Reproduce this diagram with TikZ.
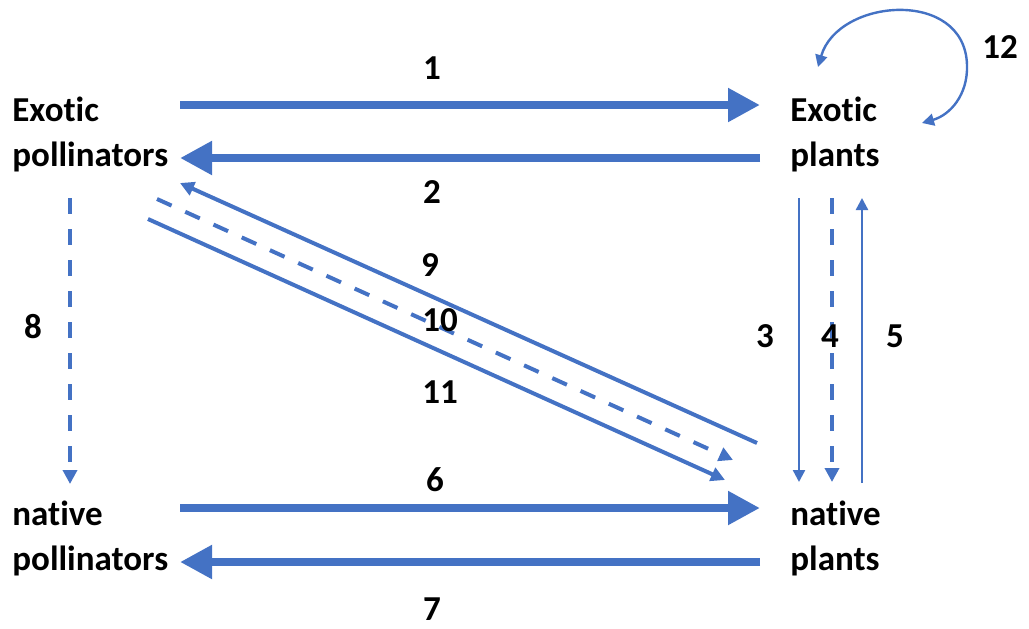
\documentclass[tikz,border=0pt]{standalone}
\usepackage{fontspec}
\setmainfont[Ligatures=NoCommon]{Carlito}
\usetikzlibrary{arrows.meta}
\definecolor{linkblue}{RGB}{68,114,196}

\begin{document}
\begin{tikzpicture}[
  x=0.5pt, y=-0.5pt,
  font=\fontsize{17.5}{22.5}\selectfont\bfseries,
  group/.style={align=left, inner sep=0pt, anchor=west},
  num/.style={inner sep=0pt},
  fat/.style={-{Triangle[length=16pt, width=16pt]}, line width=4.2pt, draw=linkblue},
  thin/.style={-{Triangle[length=7pt, width=7pt]}, line width=2pt, draw=linkblue},
  hair/.style={-{Triangle[length=6pt, width=6pt]}, line width=1.2pt, draw=linkblue},
  broken/.style={dash pattern=on 8pt off 7.5pt}
]
\useasboundingbox (0,0) rectangle (1029,628);

% the four groups
\node[group] (ep) at (12,134) {Exotic\\pollinators};
\node[group] (xp) at (790,134) {Exotic\\plants};
\node[group] (np) at (12,538) {native\\pollinators};
\node[group] (nl) at (790,538) {native\\plants};

% end points of the links
\coordinate (ep-out) at (180,105);
\coordinate (ep-in) at (180,158);
\coordinate (xp-in) at (760,105);
\coordinate (xp-out) at (760,158);
\coordinate (np-out) at (180,508);
\coordinate (np-in) at (180,562);
\coordinate (nl-in) at (760,508);
\coordinate (nl-out) at (760,562);
\coordinate (ep-down) at (70,198);
\coordinate (np-up) at (70,484);
\coordinate (xp-3) at (799,198);
\coordinate (nl-3) at (799,482);
\coordinate (xp-4) at (832,198);
\coordinate (nl-4) at (832,482);
\coordinate (xp-5) at (862,198);
\coordinate (nl-5) at (862,483);
\coordinate (nl-9) at (757,443);
\coordinate (ep-9) at (180,183);
\coordinate (ep-10) at (157,199);
\coordinate (nl-10) at (733,460);
\coordinate (ep-11) at (148,219);
\coordinate (nl-11) at (725,480);
\coordinate (xp-a) at (818,67);
\coordinate (xp-b) at (922,123);

% links
\draw[fat] (ep-out) -- (xp-in);
\draw[fat] (xp-out) -- (ep-in);
\draw[fat] (np-out) -- (nl-in);
\draw[fat] (nl-out) -- (np-in);
\draw[thin, broken] (ep-down) -- (np-up);
\draw[hair] (xp-3) -- (nl-3);
\draw[thin, broken] (xp-4) -- (nl-4);
\draw[hair] (nl-5) -- (xp-5);
\draw[thin] (nl-9) -- (ep-9);
\draw[thin, broken] (ep-10) -- (nl-10);
\draw[thin] (ep-11) -- (nl-11);
\draw[hair, {Triangle[length=6pt, width=6pt]}-{Triangle[length=6pt, width=6pt]}]
  (xp-a) .. controls (838,-2) and (965,-12) .. (967,65)
  .. controls (968,95) and (950,115) .. (xp-b);

% numbers
\node[num] (n1) at (432,68) {1};
\node[num] (n2) at (432,192) {2};
\node[num] (n3) at (765,336) {3};
\node[num] (n4) at (830,336) {4};
\node[num] (n5) at (895,336) {5};
\node[num] (n6) at (435,480) {6};
\node[num] (n7) at (432,609) {7};
\node[num] (n8) at (33,327) {8};
\node[num] (n9) at (430,265) {9};
\node[num] (n10) at (440,320) {10};
\node[num] (n11) at (440,392) {11};
\node[num] (n12) at (1000,47) {12};
\end{tikzpicture}
\end{document}
